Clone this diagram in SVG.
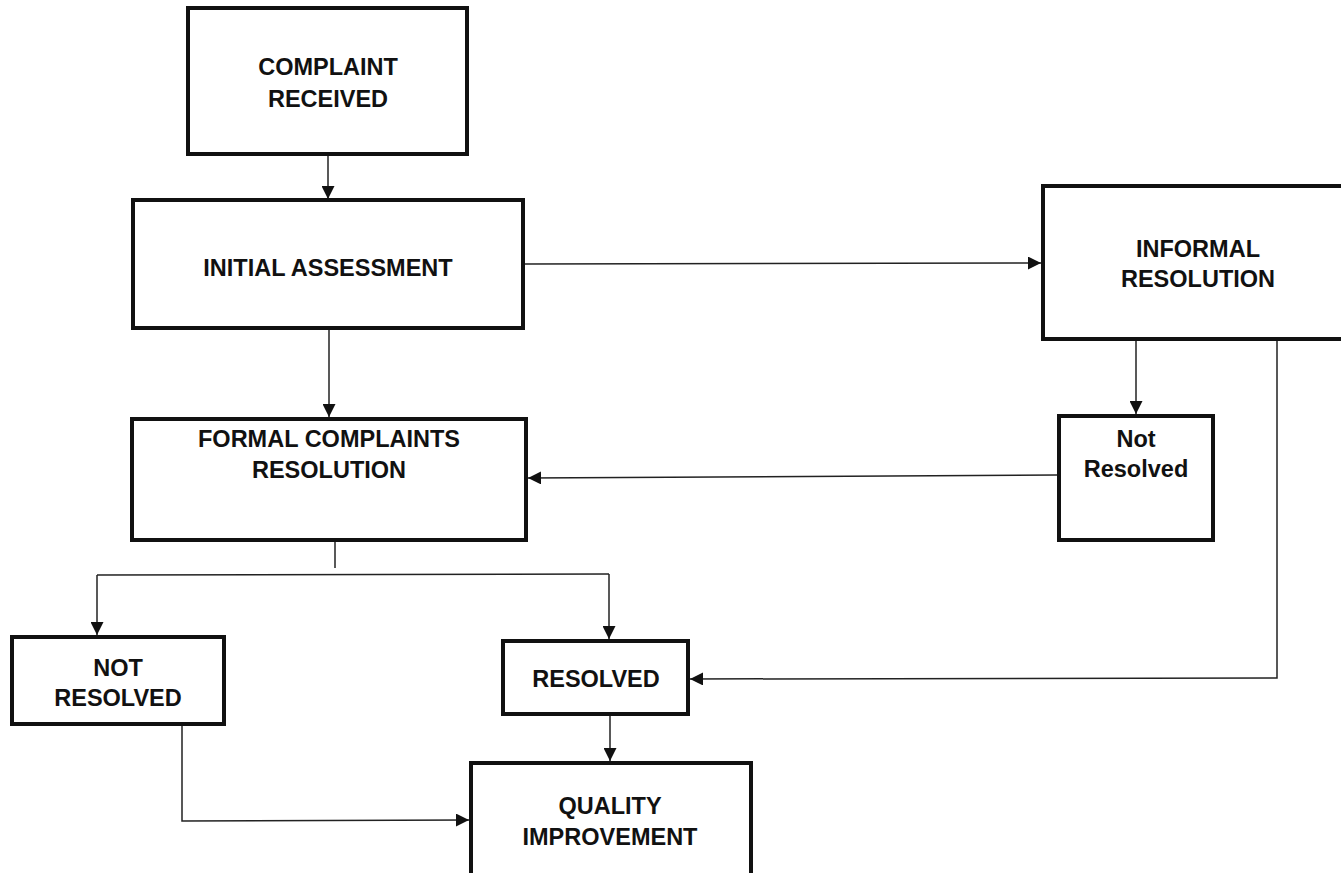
<svg xmlns="http://www.w3.org/2000/svg" width="1341" height="873" viewBox="0 0 1341 873">
<defs>
<marker id="arr" markerUnits="userSpaceOnUse" markerWidth="13" markerHeight="13" refX="13" refY="6.5" orient="auto">
<path d="M0,0 L13,6.5 L0,13 z" fill="#111"/>
</marker>
<style>
.box{fill:#fff;stroke:#111;stroke-width:4}
.lbl{font-family:"Liberation Sans",Arial,sans-serif;font-weight:bold;font-size:23.5px;fill:#111;text-anchor:middle}
.c{fill:none;stroke:#222;stroke-width:1.5}
.a{marker-end:url(#arr)}
</style>
</defs>
<rect width="1341" height="873" fill="#fff"/>
<g id="connectors">
<line class="c a" x1="328" y1="156" x2="328" y2="199"/>
<line class="c a" x1="525" y1="264" x2="1041" y2="263"/>
<line class="c a" x1="329" y1="330" x2="329" y2="417"/>
<line class="c a" x1="1136" y1="341" x2="1136" y2="414"/>
<line class="c a" x1="1057" y1="475" x2="528" y2="478"/>
<line class="c" x1="335" y1="542" x2="335" y2="568"/>
<polyline class="c" points="97,575 609,574"/>
<polyline class="c a" points="97,575 97,635"/>
<polyline class="c a" points="609,574 609,639"/>
<polyline class="c a" points="1277,332 1277,678 690,679"/>
<line class="c a" x1="610" y1="716" x2="610" y2="761"/>
<polyline class="c a" points="182,726 182,821 469,820"/>
</g>
<g id="complaint-received">
<rect class="box" x="188" y="8" width="279" height="146"/>
<text class="lbl" x="328" y="75">COMPLAINT</text>
<text class="lbl" x="328" y="107">RECEIVED</text>
</g>
<g id="initial-assessment">
<rect class="box" x="133" y="200" width="390" height="128"/>
<text class="lbl" x="328" y="276">INITIAL ASSESSMENT</text>
</g>
<g id="informal-resolution">
<rect class="box" x="1043" y="186" width="320" height="153"/>
<text class="lbl" x="1198" y="257">INFORMAL</text>
<text class="lbl" x="1198" y="287">RESOLUTION</text>
</g>
<g id="informal-not-resolved">
<rect class="box" x="1059" y="416" width="154" height="124"/>
<text class="lbl" x="1136" y="447">Not</text>
<text class="lbl" x="1136" y="477">Resolved</text>
</g>
<g id="formal-complaints-resolution">
<rect class="box" x="132" y="419" width="394" height="121"/>
<text class="lbl" x="329" y="447">FORMAL COMPLAINTS</text>
<text class="lbl" x="329" y="478">RESOLUTION</text>
</g>
<g id="not-resolved">
<rect class="box" x="12" y="637" width="212" height="87"/>
<text class="lbl" x="118" y="676">NOT</text>
<text class="lbl" x="118" y="706">RESOLVED</text>
</g>
<g id="resolved">
<rect class="box" x="503" y="641" width="185" height="73"/>
<text class="lbl" x="596" y="687">RESOLVED</text>
</g>
<g id="quality-improvement">
<rect class="box" x="471" y="763" width="280" height="115"/>
<text class="lbl" x="610" y="814">QUALITY</text>
<text class="lbl" x="610" y="845">IMPROVEMENT</text>
</g>
</svg>
